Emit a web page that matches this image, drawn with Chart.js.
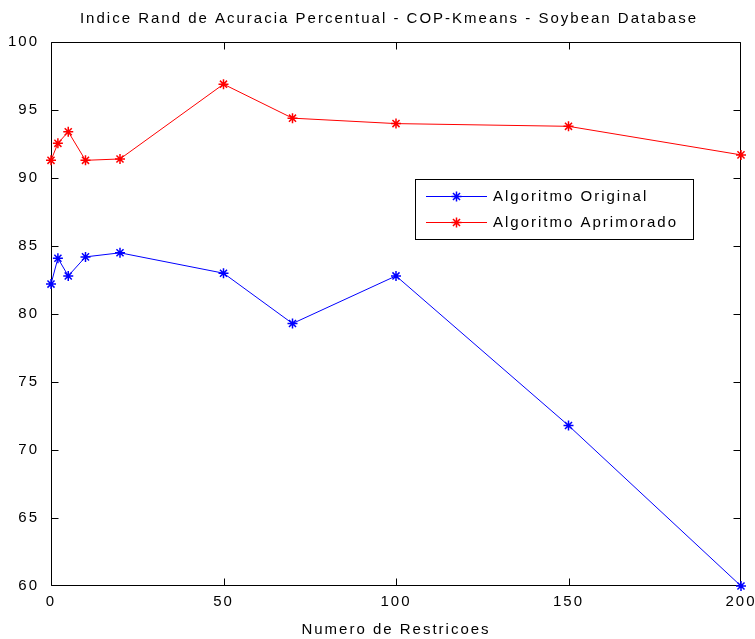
<!DOCTYPE html>
<html>
<head>
<meta charset="utf-8">
<script src="https://cdn.jsdelivr.net/npm/chart.js@4.4.1/dist/chart.umd.min.js"></script>
<style>
  html, body { margin: 0; padding: 0; background: #ffffff; }
  #wrap { width: 755px; height: 639px; }
</style>
</head>
<body>
<div id="wrap"><canvas id="c" width="755" height="639"></canvas></div>
<script>
const titleText = 'Indice Rand de Acuracia Percentual - COP-Kmeans - Soybean Database';
const xAxisTitle = 'Numero de Restricoes';
const restricoes = [0, 2, 5, 10, 20, 50, 70, 100, 150, 200];
const algoritmoOriginal = [82.2, 84.1, 82.8, 84.2, 84.5, 83.0, 79.3, 82.8, 71.8, 60.0];
const algoritmoAprimorado = [91.3, 92.55, 93.4, 91.3, 91.4, 96.9, 94.4, 94.0, 93.8, 91.7];
const seriesLabels = ['Algoritmo Original', 'Algoritmo Aprimorado'];
const seriesColors = ['#0000ff', '#ff0000'];
const xTicks = [0, 50, 100, 150, 200];
const yTicks = [60, 65, 70, 75, 80, 85, 90, 95, 100];

const FONT = 'Liberation Sans, Arial, Helvetica, sans-serif';
const SPACING = '2px';

function toPoints(xs, ys) { return xs.map((x, i) => ({ x: x, y: ys[i] })); }

const spacingPlugin = {
  id: 'spacing',
  beforeUpdate(chart) { chart.ctx.letterSpacing = SPACING; },
  beforeDraw(chart) { chart.ctx.letterSpacing = SPACING; }
};

function clamp(v, lo, hi) { return Math.max(lo, Math.min(hi, v)); }

const boxPlugin = {
  id: 'matlabBox',
  beforeDatasetsDraw(chart) {
    const ctx = chart.ctx;
    const a = chart.chartArea;
    const xs = chart.scales.x, ys = chart.scales.y;
    const L = Math.round(a.left) + 0.5, R = Math.round(a.right) - 0.5;
    const T = Math.round(a.top) + 0.5, B = Math.round(a.bottom) - 0.5;
    const tl = 7;
    ctx.save();
    ctx.strokeStyle = '#000000';
    ctx.lineWidth = 1;
    ctx.beginPath();
    ctx.rect(L, T, R - L, B - T);
    xTicks.forEach(v => {
      const px = clamp(Math.round(xs.getPixelForValue(v)) + 0.5, L, R);
      ctx.moveTo(px, B); ctx.lineTo(px, B - tl);
      ctx.moveTo(px, T); ctx.lineTo(px, T + tl);
    });
    yTicks.forEach(v => {
      const py = clamp(Math.round(ys.getPixelForValue(v)) + 0.5, T, B);
      ctx.moveTo(L, py); ctx.lineTo(L + tl, py);
      ctx.moveTo(R, py); ctx.lineTo(R - tl, py);
    });
    ctx.stroke();
    // title
    ctx.letterSpacing = SPACING;
    ctx.fillStyle = '#000000';
    ctx.font = '15px ' + FONT;
    ctx.textAlign = 'center';
    ctx.textBaseline = 'middle';
    ctx.fillText(titleText, 389, 19);
    ctx.restore();
  },
  afterDraw(chart) {
    const ctx = chart.ctx;
    ctx.save();
    ctx.strokeStyle = '#000000';
    ctx.lineWidth = 1;
    const bx = 415.5, by = 179.5, bw = 278, bh = 60;
    ctx.fillStyle = '#ffffff';
    ctx.fillRect(bx, by, bw, bh);
    ctx.strokeRect(bx, by, bw, bh);
    const rows = [196, 222];
    chart.data.datasets.forEach((ds, i) => {
      const y = rows[i] + 0.5;
      ctx.strokeStyle = ds.borderColor;
      ctx.lineWidth = 1;
      ctx.beginPath();
      ctx.moveTo(426, y); ctx.lineTo(487, y);
      ctx.stroke();
      ctx.lineWidth = 1.5;
      Chart.helpers.drawPoint(ctx, { pointStyle: 'star', radius: 5, borderWidth: 1.5 }, 456.5, y);
      ctx.letterSpacing = SPACING;
      ctx.fillStyle = '#000000';
      ctx.font = '15px ' + FONT;
      ctx.textAlign = 'left';
      ctx.textBaseline = 'middle';
      ctx.fillText(ds.label, 493, rows[i] + 1);
    });
    ctx.restore();
  }
};

const datasets = [algoritmoOriginal, algoritmoAprimorado].map((vals, i) => ({
  label: seriesLabels[i],
  data: toPoints(restricoes, vals),
  borderColor: seriesColors[i],
  backgroundColor: seriesColors[i],
  borderWidth: 1,
  pointStyle: 'star',
  pointRadius: 5,
  pointHoverRadius: 5,
  pointBorderWidth: 1.5,
  pointBorderColor: seriesColors[i],
  tension: 0,
  fill: false,
  clip: false
}));

new Chart(document.getElementById('c'), {
  type: 'line',
  data: { datasets: datasets },
  plugins: [spacingPlugin, boxPlugin],
  options: {
    responsive: false,
    animation: false,
    devicePixelRatio: 1,
    layout: { padding: { top: 42, right: 14, left: 0, bottom: 0 } },
    plugins: {
      legend: { display: false },
      tooltip: { enabled: false },
      title: { display: false }
    },
    scales: {
      x: {
        type: 'linear',
        min: 0, max: 200,
        afterBuildTicks(scale) { scale.ticks = xTicks.map(v => ({ value: v })); },
        afterFit(scale) { scale.height = 53; scale.paddingLeft = 0; scale.paddingRight = 0; },
        grid: { display: false, drawTicks: false },
        border: { display: false },
        ticks: {
          color: '#000000',
          font: { family: FONT, size: 15 },
          padding: 7,
          maxRotation: 0,
          autoSkip: false
        },
        title: {
          display: true,
          text: xAxisTitle,
          color: '#000000',
          font: { family: FONT, size: 15 },
          padding: { top: 0, bottom: 0 }
        }
      },
      y: {
        type: 'linear',
        min: 60, max: 100,
        afterBuildTicks(scale) { scale.ticks = yTicks.map(v => ({ value: v })); },
        afterFit(scale) { scale.width = 51; scale.paddingTop = 0; scale.paddingBottom = 0; },
        grid: { display: false, drawTicks: false },
        border: { display: false },
        ticks: {
          color: '#000000',
          font: { family: FONT, size: 15 },
          padding: 12,
          autoSkip: false
        }
      }
    }
  }
});
</script>
</body>
</html>
